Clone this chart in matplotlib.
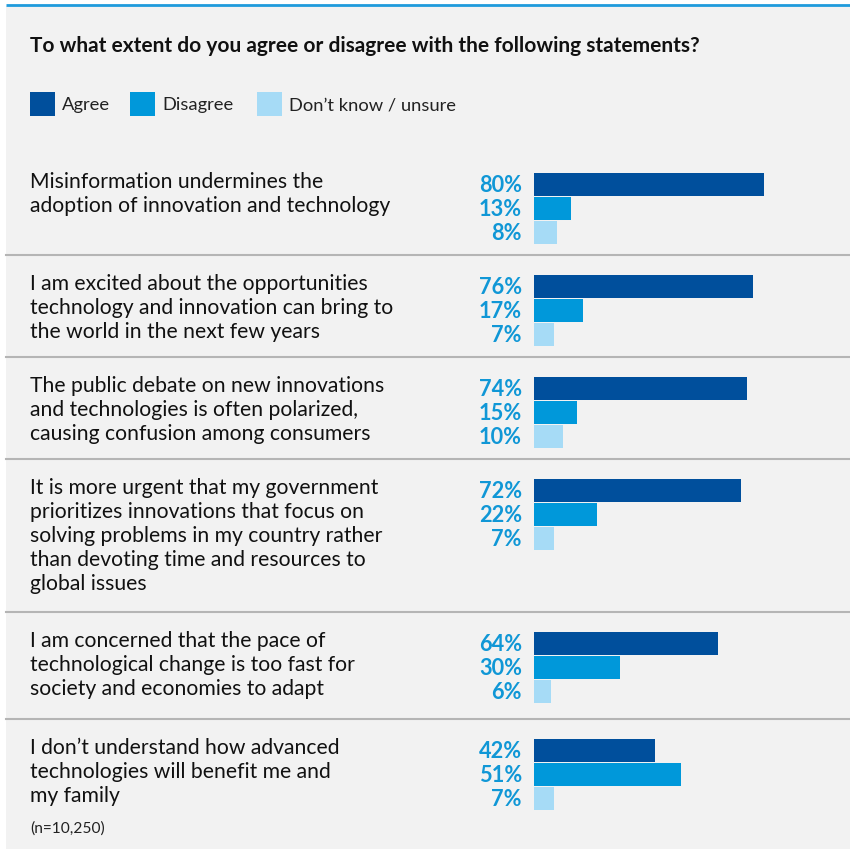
import matplotlib.pyplot as plt
from matplotlib.patches import Rectangle

plt.rcParams['font.family'] = ['Lato', 'DejaVu Sans']

statements = [
    ["Misinformation undermines the",
     "adoption of innovation and technology"],
    ["I am excited about the opportunities",
     "technology and innovation can bring to",
     "the world in the next few years"],
    ["The public debate on new innovations",
     "and technologies is often polarized,",
     "causing confusion among consumers"],
    ["It is more urgent that my government",
     "prioritizes innovations that focus on",
     "solving problems in my country rather",
     "than devoting time and resources to",
     "global issues"],
    ["I am concerned that the pace of",
     "technological change is too fast for",
     "society and economies to adapt"],
    ["I don\u2019t understand how advanced",
     "technologies will benefit me and",
     "my family"],
]
agree = [80, 76, 74, 72, 64, 42]
disagree = [13, 17, 15, 22, 30, 51]
unsure = [8, 7, 10, 7, 6, 7]

series_names = ["Agree", "Disagree", "Don\u2019t know / unsure"]
colors = ["#004f9c", "#0098da", "#a6dbf6"]
label_color = "#1097d6"
bg = "#f2f2f2"

# top edge of each statement block (pixel rows), separators sit on these
block_tops = [153, 255, 357, 459, 612, 719]

W, H = 850, 849
fig = plt.figure(figsize=(W / 100, H / 100), dpi=100)
fig.patch.set_facecolor("white")

ax = fig.add_axes([0, 0, 1, 1])
ax.set_xlim(0, W)
ax.set_ylim(H, 0)
ax.axis("off")

# panel and top rule
ax.add_patch(Rectangle((6, 6), W - 6, H - 6, facecolor=bg, edgecolor="none", zorder=0))
ax.plot([6, W], [5, 5], color="#1f9bdc", lw=2, solid_capstyle="butt")

ax.text(30, 52, "To what extent do you agree or disagree with the following statements?",
        fontsize=15, fontweight="bold", color="#111111", va="baseline")

# legend
lx = [30, 130, 257]
for x, name, c in zip(lx, series_names, colors):
    ax.add_patch(Rectangle((x, 92), 25, 24, facecolor=c, edgecolor="none"))
    ax.text(x + 32, 110, name, fontsize=13.2, color="#222222", va="baseline")

# bar axes: x in percent, y shares the pixel rows of the main axes
scale = 2.875  # px per percent
bax = fig.add_axes([534 / W, 0, 100 * scale / W, 1])
bax.set_xlim(0, 100)
bax.set_ylim(H, 0)
bax.axis("off")
bax.patch.set_alpha(0)

for i, lines in enumerate(statements):
    top = block_tops[i]
    if i > 0:
        ax.plot([6, W], [top, top], color="#b5b5b5", lw=1.5)
    for j, line in enumerate(lines):
        ax.text(30, top + 35 + j * 24, line, fontsize=15.2, color="#111111", va="baseline")
    vals = [agree[i], disagree[i], unsure[i]]
    for k, (v, c) in enumerate(zip(vals, colors)):
        yc = top + 31.5 + k * 24
        bax.barh(yc, v, height=23, left=0, color=c, edgecolor="none")
        ax.text(522, yc + 7.5, f"{v}%", fontsize=15.7, fontweight="bold",
                color=label_color, ha="right", va="baseline")

ax.text(30, 833, "(n=10,250)", fontsize=11.2, color="#222222", va="baseline")

fig.savefig("out.png", dpi=100, facecolor=fig.get_facecolor())
